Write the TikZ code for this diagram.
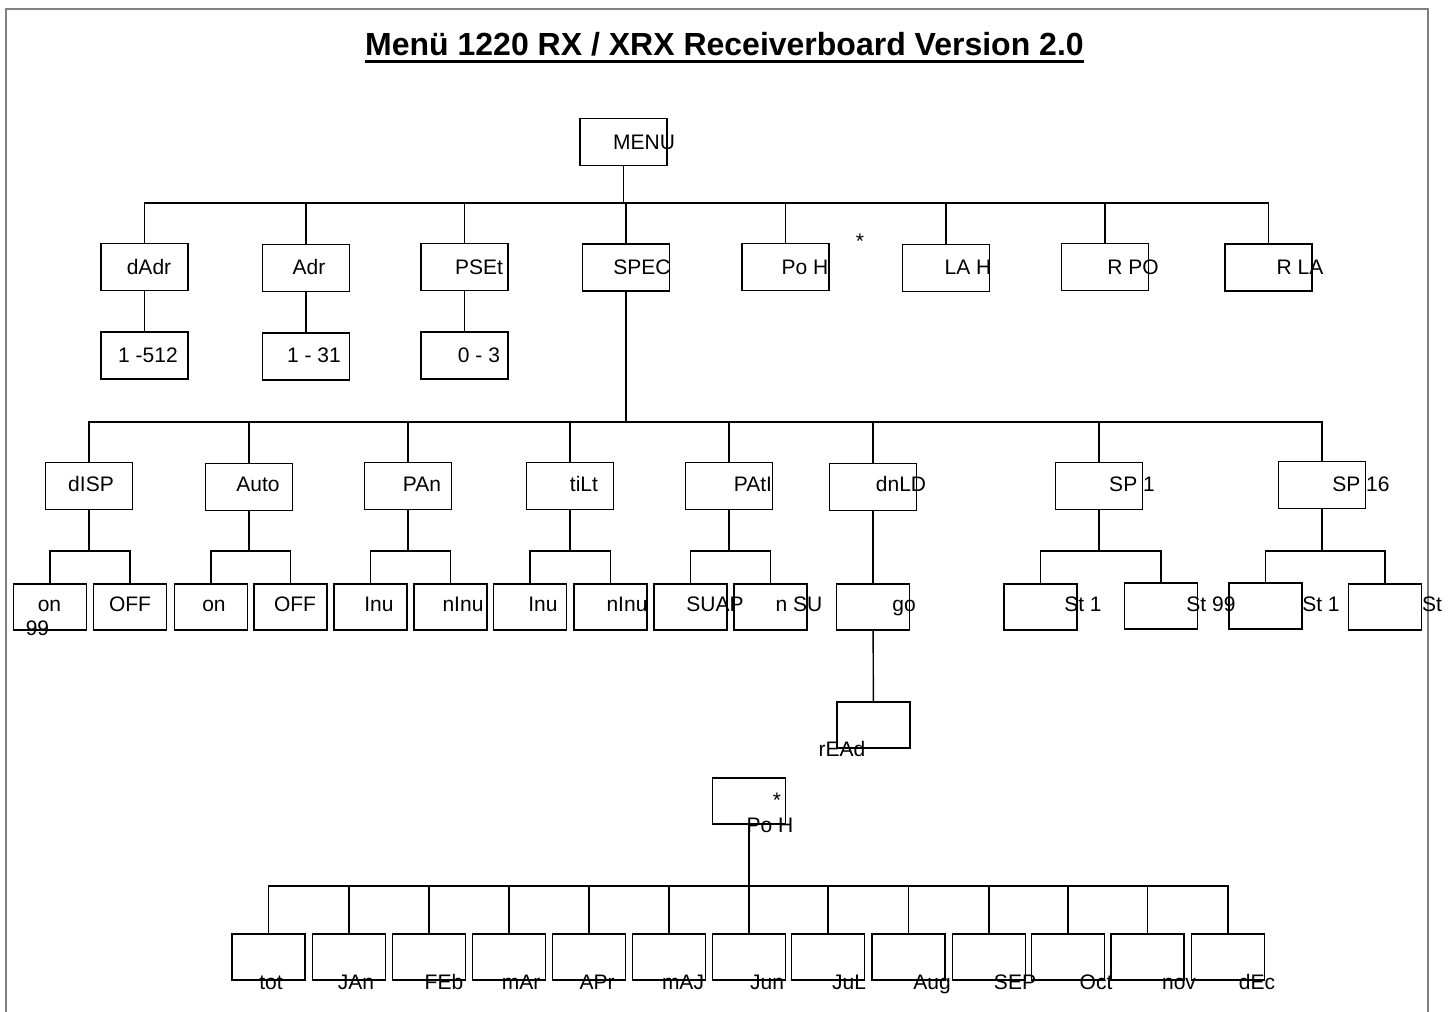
\documentclass[tikz,border=0pt]{standalone}
\usepackage{fontspec}
\setmainfont{Liberation Sans}
\usetikzlibrary{positioning}
\tikzset{
    box/.style={rectangle, draw=black, line width=0.7pt, minimum width=43.5pt, minimum height=23.5pt, inner sep=0pt},
    sbox/.style={box, minimum width=36.5pt, minimum height=23pt},
    txt/.style={anchor=base, inner sep=0pt, font=\fontsize{10.5}{12}\selectfont},
    line/.style={line width=0.7pt}
}
\begin{document}
\begin{tikzpicture}[x=0.5pt, y=-0.5pt]
    \useasboundingbox (0,0) rectangle (1453,1012);

    % Frame
    \draw [gray, line width=1pt] (6,1012) -- (6,9) -- (1428,9) -- (1428,1012);

    % Title
    \node (title) [anchor=base, inner sep=0pt, font=\fontsize{16}{19}\selectfont\bfseries] at (724.5,55) {Menü 1220 RX / XRX Receiverboard Version 2.0};
    \draw [line width=1.5pt] ([yshift=-3.4pt]title.base west) -- ([yshift=-3.4pt]title.base east);

    % Top
    \node (MENU) [box] at (623.5,142) {};
    \node (tMENU) [txt] at (644,149) {MENU};
    \coordinate (bus1) at (0,203);

    % Main menu
    \node (dAdr) [box] at (144.5,267) {};
    \node (tdAdr) [txt] at (149,274) {dAdr};
    \node (Adr) [box] at (306,268) {};
    \node (tAdr) [txt] at (309,274) {Adr};
    \node (PSEt) [box] at (464.5,267) {};
    \node (tPSEt) [txt] at (479,274) {PSEt};
    \node (SPEC) [box] at (626,267.5) {};
    \node (tSPEC) [txt] at (642,274) {SPEC};
    \node (PoH) [box] at (785.5,267) {};
    \node (tPoH) [txt] at (805,274) {Po H};
    \node (star1) [txt] at (860,248) {*};
    \node (LAH) [box] at (946,268) {};
    \node (tLAH) [txt] at (968,274) {LA H};
    \node (RPO) [box] at (1105,267) {};
    \node (tRPO) [txt] at (1133,274) {R PO};
    \node (RLA) [box] at (1268.5,267.5) {};
    \node (tRLA) [txt] at (1300,274) {R LA};

    % Ranges
    \node (r512) [box, below=20pt of dAdr] {};
    \node (tr512) [txt] at (148,362) {1 -512};
    \node (r31) [box, below=20pt of Adr] {};
    \node (tr31) [txt] at (314,362) {1 - 31};
    \node (r3) [box, below=20pt of PSEt] {};
    \node (tr3) [txt] at (479,362) {0 - 3};

    % SPEC menu
    \coordinate (bus2) at (0,422);
    \node (dISP) [box] at (89,486) {};
    \node (tdISP) [txt] at (91,491) {dISP};
    \node (Auto) [box] at (249,487) {};
    \node (tAuto) [txt] at (258,491) {Auto};
    \node (PAn) [box] at (408,486) {};
    \node (tPAn) [txt] at (422,491) {PAn};
    \node (tiLt) [box] at (570,486) {};
    \node (ttiLt) [txt] at (584,491) {tiLt};
    \node (PAtI) [box] at (729,486) {};
    \node (tPAtI) [txt] at (753,491) {PAtI};
    \node (dnLD) [box] at (873,487) {};
    \node (tdnLD) [txt] at (901,491) {dnLD};
    \node (SPa) [box] at (1099,486) {};
    \node (tSPa) [txt] at (1132,491) {SP 1};
    \node (SPb) [box] at (1322,485) {};
    \node (tSPb) [txt] at (1361,491) {SP 16};

    % Settings
    \coordinate (bus3) at (0,551);
    \node (dOn) [sbox] at (50,607) {};
    \node (tdOn) [txt] at (49.5,611) {on};
    \node (t99) [txt] at (37.5,635) {99};
    \node (dOff) [sbox] at (130,607) {};
    \node (tdOff) [txt] at (130,611) {OFF};
    \node (aOn) [sbox] at (211,607) {};
    \node (taOn) [txt] at (214,611) {on};
    \node (aOff) [sbox] at (290.5,607) {};
    \node (taOff) [txt] at (295,611) {OFF};
    \node (pInu) [sbox] at (370.5,607) {};
    \node (tpInu) [txt] at (379,611) {Inu};
    \node (pnInu) [sbox] at (450.5,607) {};
    \node (tpnInu) [txt] at (463,611) {nInu};
    \node (tInu) [sbox] at (530,607) {};
    \node (ttInu) [txt] at (543,611) {Inu};
    \node (tnInu) [sbox] at (610.5,607) {};
    \node (ttnInu) [txt] at (627,611) {nInu};
    \node (SUAP) [sbox] at (690.5,607) {};
    \node (tSUAP) [txt] at (715,611) {SUAP};
    \node (nSU) [sbox] at (770.5,607) {};
    \node (tnSU) [txt] at (799,611) {n SU};
    \node (go) [sbox] at (873,607) {};
    \node (tgo) [txt] at (904,611) {go};
    \node (s1a) [sbox] at (1040.5,607) {};
    \node (ts1a) [txt] at (1083,611) {St 1};
    \node (s99) [sbox] at (1161,606) {};
    \node (ts99) [txt] at (1211,611) {St 99};
    \node (s1b) [sbox] at (1265.5,606) {};
    \node (ts1b) [txt] at (1321,611) {St 1};
    \node (sSt) [sbox] at (1385,607) {};
    \node (tsSt) [txt] at (1432,611) {St};

    % Download
    \node (read) [sbox] at (873.5,725) {};
    \node (tread) [txt] at (842,756) {rEAd};

    % Po H counter
    \node (PoHb) [sbox] at (749,801) {};
    \node (star2) [txt] at (777,807) {*};
    \node (tPoHb) [txt] at (770,832) {Po H};
    \coordinate (bus4) at (0,886);
    \node (tot) [sbox] at (268.5,957) {};
    \node (ttot) [txt] at (271,989) {tot};
    \node (JAn) [sbox] at (349,957) {};
    \node (tJAn) [txt] at (356,989) {JAn};
    \node (FEb) [sbox] at (429,957) {};
    \node (tFEb) [txt] at (444,989) {FEb};
    \node (mAr) [sbox] at (509,957) {};
    \node (tmAr) [txt] at (521,989) {mAr};
    \node (APr) [sbox] at (589,957) {};
    \node (tAPr) [txt] at (597,989) {APr};
    \node (mAJ) [sbox] at (669,957) {};
    \node (tmAJ) [txt] at (683,989) {mAJ};
    \node (Jun) [sbox] at (749,957) {};
    \node (tJun) [txt] at (767,989) {Jun};
    \node (JuL) [sbox] at (828,957) {};
    \node (tJuL) [txt] at (849,989) {JuL};
    \node (Aug) [sbox] at (908.5,957) {};
    \node (tAug) [txt] at (932,989) {Aug};
    \node (SEP) [sbox] at (989,957) {};
    \node (tSEP) [txt] at (1015,989) {SEP};
    \node (Oct) [sbox] at (1068,957) {};
    \node (tOct) [txt] at (1096,989) {Oct};
    \node (nov) [sbox] at (1147.5,957) {};
    \node (tnov) [txt] at (1179,989) {nov};
    \node (dEc) [sbox] at (1228,957) {};
    \node (tdEc) [txt] at (1257,989) {dEc};

    % Edges
    \draw [line] (MENU.south) -- (MENU.south |- bus1);
    \draw [line] (dAdr.north) |- (bus1 -| RLA.north) -- (RLA.north);
    \draw [line] (Adr.north) -- (Adr.north |- bus1);
    \draw [line] (PSEt.north) -- (PSEt.north |- bus1);
    \draw [line] (SPEC.north) -- (SPEC.north |- bus1);
    \draw [line] (PoH.north) -- (PoH.north |- bus1);
    \draw [line] (LAH.north) -- (LAH.north |- bus1);
    \draw [line] (RPO.north) -- (RPO.north |- bus1);
    \draw [line] (dAdr) -- (r512);
    \draw [line] (Adr) -- (r31);
    \draw [line] (PSEt) -- (r3);

    \draw [line] (SPEC.south) -- (SPEC.south |- bus2);
    \draw [line] (dISP.north) |- (bus2 -| SPb.north) -- (SPb.north);
    \draw [line] (Auto.north) -- (Auto.north |- bus2);
    \draw [line] (PAn.north) -- (PAn.north |- bus2);
    \draw [line] (tiLt.north) -- (tiLt.north |- bus2);
    \draw [line] (PAtI.north) -- (PAtI.north |- bus2);
    \draw [line] (dnLD.north) -- (dnLD.north |- bus2);
    \draw [line] (SPa.north) -- (SPa.north |- bus2);

    \draw [line] (dISP.south) -- (dISP.south |- bus3);
    \draw [line] (dOn.north) |- (bus3 -| dOff.north) -- (dOff.north);
    \draw [line] (Auto.south) -- (Auto.south |- bus3);
    \draw [line] (aOn.north) |- (bus3 -| aOff.north) -- (aOff.north);
    \draw [line] (PAn.south) -- (PAn.south |- bus3);
    \draw [line] (pInu.north) |- (bus3 -| pnInu.north) -- (pnInu.north);
    \draw [line] (tiLt.south) -- (tiLt.south |- bus3);
    \draw [line] (tInu.north) |- (bus3 -| tnInu.north) -- (tnInu.north);
    \draw [line] (PAtI.south) -- (PAtI.south |- bus3);
    \draw [line] (SUAP.north) |- (bus3 -| nSU.north) -- (nSU.north);
    \draw [line] (SPa.south) -- (SPa.south |- bus3);
    \draw [line] (s1a.north) |- (bus3 -| s99.north) -- (s99.north);
    \draw [line] (SPb.south) -- (SPb.south |- bus3);
    \draw [line] (s1b.north) |- (bus3 -| sSt.north) -- (sSt.north);
    \draw [line] (dnLD) -- (go);
    \draw [line] (go) -- (read);

    \draw [line] (PoHb.south) -- (PoHb.south |- bus4);
    \draw [line] (tot.north) |- (bus4 -| dEc.north) -- (dEc.north);
    \draw [line] (JAn.north) -- (JAn.north |- bus4);
    \draw [line] (FEb.north) -- (FEb.north |- bus4);
    \draw [line] (mAr.north) -- (mAr.north |- bus4);
    \draw [line] (APr.north) -- (APr.north |- bus4);
    \draw [line] (mAJ.north) -- (mAJ.north |- bus4);
    \draw [line] (Jun.north) -- (Jun.north |- bus4);
    \draw [line] (JuL.north) -- (JuL.north |- bus4);
    \draw [line] (Aug.north) -- (Aug.north |- bus4);
    \draw [line] (SEP.north) -- (SEP.north |- bus4);
    \draw [line] (Oct.north) -- (Oct.north |- bus4);
    \draw [line] (nov.north) -- (nov.north |- bus4);
\end{tikzpicture}
\end{document}
